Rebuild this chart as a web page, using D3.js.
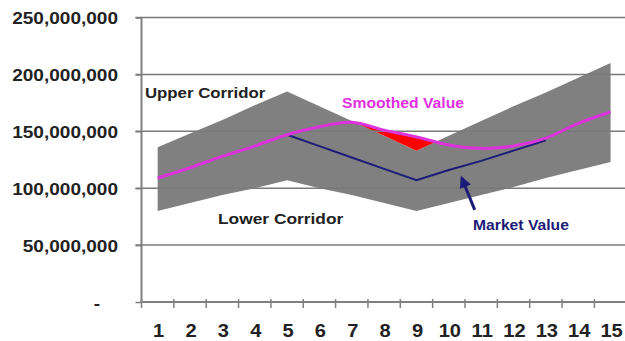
<!DOCTYPE html>
<html>
<head>
<meta charset="utf-8">
<script src="https://cdn.jsdelivr.net/npm/d3@7"></script>
<style>
  body { margin: 0; background: #fff; }
  text { font-family: "Liberation Sans", Arial, sans-serif; font-weight: bold; }
</style>
</head>
<body>
<script>
// valores en millones
const categorias = ["1","2","3","4","5","6","7","8","9","10","11","12","13","14","15"];
const corredorSuperior = [136, 148, 160, 173, 185, 172, 159, 146, 133, 146, 159, 172, 184, 197, 210];
const corredorInferior = [80, 87, 94, 100, 107, 100, 94, 87, 80, 87, 94, 101, 109, 116, 123];
const valorSuavizado = [109, 118, 128, 137, 147, 154, 158, 151, 145, 138, 135, 137, 144, 157, 167];
const valorMercado = [null, null, null, null, 147, 137, 127, 117, 107, 116, 124, 133, 142, null, null];
const ticksY = [0, 50e6, 100e6, 150e6, 200e6, 250e6];

const WIDTH = 625;
const HEIGHT = 341;

const svg = d3.select("body")
    .append("svg")
    .attr("width", WIDTH)
    .attr("height", HEIGHT);

const x = d3.scaleBand()
    .domain(categorias)
    .range([141.5, 141.5 + 15 * 32.35])
    .padding(0);

const xc = (i) => x(categorias[i]) + x.bandwidth() / 2;
// posición continua en unidades de categoría (1 = primera)
const xv = (v) => x.range()[0] + (v - 0.5) * x.bandwidth();

const y = d3.scaleLinear()
    .domain([0, 250e6])
    .range([302, 17.5]);

const M = 1e6;
const filas = categorias.map((c, i) => ({
    i,
    sup: corredorSuperior[i] * M,
    inf: corredorInferior[i] * M,
    suav: valorSuavizado[i] * M,
    merc: valorMercado[i] == null ? null : valorMercado[i] * M,
}));

// corredor gris
svg.append("path")
    .datum(filas)
    .attr("d", d3.area()
        .x((d) => xc(d.i))
        .y0((d) => y(d.inf))
        .y1((d) => y(d.sup)))
    .attr("fill", "#808080");

// zona roja: suavizado por encima del corredor superior
svg.append("clipPath")
    .attr("id", "sobreCorredor")
    .append("path")
    .datum(filas)
    .attr("d", d3.area()
        .x((d) => xc(d.i))
        .y0(0)
        .y1((d) => y(d.sup)));

svg.append("path")
    .datum(filas)
    .attr("clip-path", "url(#sobreCorredor)")
    .attr("d", d3.area()
        .curve(d3.curveCatmullRom.alpha(0.5))
        .x((d) => xc(d.i))
        .y0((d) => y(d.suav))
        .y1(y(0)))
    .attr("fill", "#ff0000");

// líneas de cuadrícula
svg.append("g")
    .selectAll("line")
    .data(ticksY.filter((t) => t > 0))
    .join("line")
    .attr("x1", x.range()[0] - 6)
    .attr("x2", WIDTH + 5)
    .attr("y1", (d) => y(d))
    .attr("y2", (d) => y(d))
    .attr("stroke", "#7a7a7a")
    .attr("stroke-width", 1.5);

// valor de mercado
svg.append("path")
    .datum(filas)
    .attr("d", d3.line()
        .defined((d) => d.merc != null)
        .x((d) => xc(d.i))
        .y((d) => y(d.merc)))
    .attr("fill", "none")
    .attr("stroke", "#1c1c78")
    .attr("stroke-width", 2);

// valor suavizado
svg.append("path")
    .datum(filas)
    .attr("d", d3.line()
        .curve(d3.curveCatmullRom.alpha(0.5))
        .x((d) => xc(d.i))
        .y((d) => y(d.suav)))
    .attr("fill", "none")
    .attr("stroke", "#dd33dd")
    .attr("stroke-width", 3);

// eje Y
const ejeY = svg.append("g")
    .attr("transform", `translate(${x.range()[0]},0)`)
    .call(d3.axisLeft(y)
        .tickValues(ticksY)
        .tickSize(6)
        .tickFormat((d) => d === 0 ? "-" : d3.format(",")(d)));

ejeY.select(".domain")
    .attr("d", `M0,${y(250e6)}V${y(0)}`)
    .attr("stroke", "#808080")
    .attr("stroke-width", 2);
ejeY.selectAll(".tick line")
    .attr("stroke", "#7a7a7a")
    .attr("stroke-width", 1.5);
ejeY.selectAll(".tick text")
    .attr("x", (d) => d === 0 ? -37 : -21)
    .attr("dy", "0.36em")
    .attr("transform", "scale(1.12,1)")
    .attr("font-size", 17)
    .attr("fill", "#222");

// eje X
const ejeX = svg.append("g");
ejeX.append("line")
    .attr("x1", x.range()[0])
    .attr("x2", WIDTH + 5)
    .attr("y1", y(0))
    .attr("y2", y(0))
    .attr("stroke", "#808080")
    .attr("stroke-width", 2);
ejeX.selectAll(".marca")
    .data(categorias)
    .join("line")
    .attr("class", "marca")
    .attr("x1", (d) => x(d))
    .attr("x2", (d) => x(d))
    .attr("y1", y(0) - 3)
    .attr("y2", y(0) + 6)
    .attr("stroke", "#808080")
    .attr("stroke-width", 1.5);
ejeX.selectAll(".etiqueta")
    .data(categorias)
    .join("text")
    .attr("class", "etiqueta")
    .attr("transform", (d) => `translate(${x(d) + x.bandwidth() / 2 + 1},336.5) scale(1.15,1)`)
    .attr("text-anchor", "middle")
    .attr("font-size", 17.5)
    .attr("fill", "#222")
    .text((d) => d);

// anotaciones
const notas = [
    { texto: "Upper Corridor", x: 145, y: 98, color: "#222", size: 15 },
    { texto: "Lower Corridor", x: 218, y: 224, color: "#222", size: 15.5 },
    { texto: "Smoothed Value", x: 342, y: 108, color: "#e030e0", size: 14 },
    { texto: "Market Value", x: 473, y: 230, color: "#1c1c78", size: 14 },
];
svg.selectAll(".nota")
    .data(notas)
    .join("text")
    .attr("class", "nota")
    .attr("transform", (d) => `translate(${d.x},${d.y}) scale(1.12,1)`)
    .attr("font-size", (d) => d.size)
    .attr("fill", (d) => d.color)
    .text((d) => d.texto);

// flecha hacia el valor de mercado
svg.append("defs")
    .append("marker")
    .attr("id", "punta")
    .attr("viewBox", "0 0 10 10")
    .attr("refX", 8)
    .attr("refY", 5)
    .attr("markerWidth", 4)
    .attr("markerHeight", 4)
    .attr("orient", "auto")
    .append("path")
    .attr("d", "M0,0L10,5L0,10Z")
    .attr("fill", "#1c1c78");

svg.append("line")
    .attr("x1", xv(10.8))
    .attr("y1", y(81e6))
    .attr("x2", xv(10.4))
    .attr("y2", y(109e6))
    .attr("stroke", "#1c1c78")
    .attr("stroke-width", 3)
    .attr("marker-end", "url(#punta)");
</script>
</body>
</html>
